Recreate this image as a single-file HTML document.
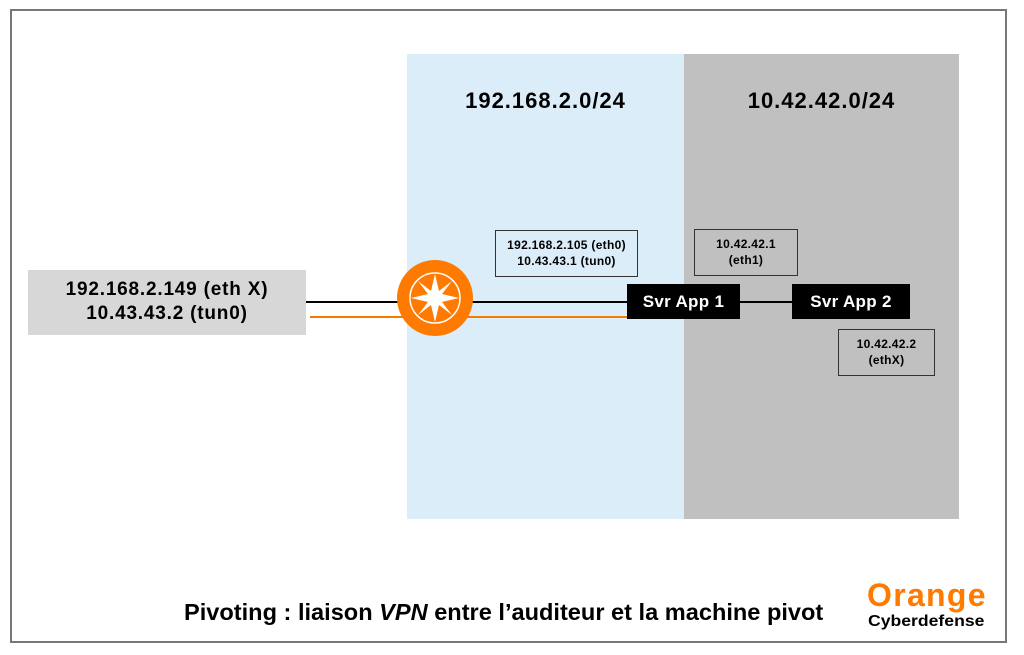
<!DOCTYPE html>
<html><head><meta charset="utf-8"><style>
body{margin:0;width:1024px;height:655px;background:#fff;font-family:"Liberation Sans",sans-serif;position:relative;overflow:hidden}
div{position:absolute;box-sizing:border-box}
.b{font-weight:bold}
.box{border:1px solid #333;text-align:center;font-size:12px;font-weight:bold;line-height:16px;padding-top:6px;letter-spacing:0.3px;white-space:nowrap}
.svr{background:#000;color:#fff;font-weight:bold;font-size:17px;text-align:center;line-height:35px;letter-spacing:0.3px}
</style></head><body>
<div style="left:10px;top:9px;width:997px;height:634px;border:2px solid #777"></div>
<div style="left:407px;top:54px;width:277px;height:465px;background:#dbedf8"></div>
<div style="left:684px;top:54px;width:275px;height:465px;background:#c0c0c0"></div>
<div class="b" style="left:407px;top:88px;width:277px;text-align:center;font-size:22px;letter-spacing:1px">192.168.2.0/24</div>
<div class="b" style="left:684px;top:88px;width:275px;text-align:center;font-size:22px;letter-spacing:1px">10.42.42.0/24</div>
<div style="left:28px;top:270px;width:278px;height:65px;background:#d7d7d7;text-align:center;font-weight:bold;font-size:19px;line-height:24px;padding-top:8px;letter-spacing:0.8px;white-space:nowrap">192.168.2.149 (eth X)<br>10.43.43.2 (tun0)</div>
<div style="left:306px;top:301px;width:322px;height:2px;background:#000"></div>
<div style="left:310px;top:316px;width:318px;height:2px;background:#f47a00"></div>
<div style="left:740px;top:301px;width:52px;height:2px;background:#000"></div>
<svg style="position:absolute;left:396px;top:260px" width="80" height="80" viewBox="0 0 80 80">
<circle cx="39" cy="38" r="38" fill="#ff7a00"/>
<circle cx="39" cy="38" r="25" fill="none" stroke="#fff" stroke-width="1.5"/>
<polygon fill="#fff" points="39,14 43,31 56,21 46,34 63,38 46,42 56,55 43,45 39,62 35,45 22,55 32,42 15,38 32,34 22,21 35,31"/>
</svg>
<div class="box" style="left:495px;top:230px;width:143px;height:47px">192.168.2.105 (eth0)<br>10.43.43.1 (tun0)</div>
<div class="box" style="left:694px;top:229px;width:104px;height:47px">10.42.42.1<br>(eth1)</div>
<div class="box" style="left:838px;top:329px;width:97px;height:47px">10.42.42.2<br>(ethX)</div>
<div class="svr" style="left:627px;top:284px;width:113px;height:35px">Svr App 1</div>
<div class="svr" style="left:792px;top:284px;width:118px;height:35px">Svr App 2</div>
<div class="b" style="left:184px;top:599px;font-size:23px;white-space:nowrap;transform:scaleX(1.025);transform-origin:left">Pivoting : liaison <i>VPN</i> entre l’auditeur et la machine pivot</div>
<div class="b" style="left:867px;top:578px;font-size:32px;color:#ff7a00;line-height:34px;letter-spacing:1.3px">Orange</div>
<div class="b" style="left:868px;top:614px;font-size:16px;line-height:16px;transform:scaleX(1.1);transform-origin:left">Cyberdefense</div>
</body></html>
